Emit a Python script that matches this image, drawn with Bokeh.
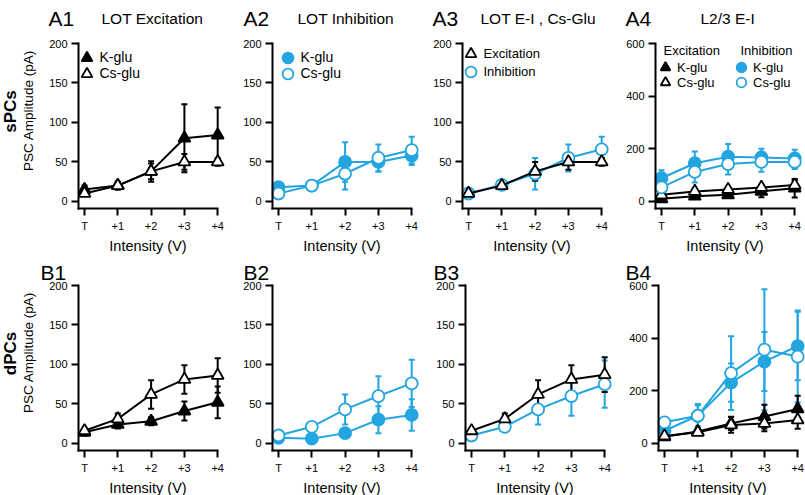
from bokeh.plotting import figure
from bokeh.models import (Range1d, FixedTicker, ColumnDataSource, Whisker, TeeHead,
                          Legend, LegendItem, Label)
from bokeh.layouts import row, column
from bokeh.embed import file_html
from bokeh.resources import INLINE

FONT = "Liberation Sans"
BLUE = "#23A5E0"
BLACK = "#000000"

# ---------------- data ----------------
x_labels = ["T", "+1", "+2", "+3", "+4"]
intensity = [0, 1, 2, 3, 4]

# A1 LOT excitation (sPCs)
a1_kglu = [15, 20, 38, 80, 84]
a1_kglu_err = [5, 5, 13, 43, 35]
a1_csglu = [10, 20, 38, 50, 50]
a1_csglu_err = [3, 5, 10, 10, 5]
# A2 LOT inhibition (sPCs)
a2_kglu = [18, 20, 50, 50, 58]
a2_kglu_err = [5, 5, 25, 12, 12]
a2_csglu = [10, 20, 35, 55, 65]
a2_csglu_err = [3, 5, 20, 17, 17]
# A3 LOT E-I, Cs-Glu (sPCs)
a3_exc = [10, 20, 38, 50, 50]
a3_exc_err = [3, 5, 12, 10, 5]
a3_inh = [10, 21, 35, 55, 66]
a3_inh_err = [3, 4, 20, 17, 16]
# A4 L2/3 E-I (sPCs)
a4_exc_k = [10, 20, 25, 38, 50]
a4_exc_k_err = [5, 8, 10, 22, 35]
a4_exc_cs = [25, 38, 45, 53, 62]
a4_exc_cs_err = [8, 8, 10, 10, 18]
a4_inh_k = [88, 145, 170, 167, 163]
a4_inh_k_err = [30, 45, 48, 33, 33]
a4_inh_cs = [53, 112, 142, 150, 150]
a4_inh_cs_err = [30, 40, 40, 37, 27]
# B1 LOT excitation (dPCs)
b1_kglu = [14, 24, 28, 41, 52]
b1_kglu_err = [4, 5, 5, 12, 20]
b1_csglu = [16, 31, 62, 81, 86]
b1_csglu_err = [3, 7, 18, 18, 22]
# B2 LOT inhibition (dPCs)
b2_kglu = [7, 6, 13, 30, 36]
b2_kglu_err = [3, 3, 4, 17, 20]
b2_csglu = [10, 21, 43, 60, 76]
b2_csglu_err = [2, 3, 19, 25, 30]
# B3 LOT E-I (dPCs)
b3_exc = [16, 31, 62, 81, 87]
b3_exc_err = [3, 7, 18, 18, 22]
b3_inh = [10, 21, 43, 60, 75]
b3_inh_err = [2, 3, 19, 25, 30]
# B4 L2/3 E-I (dPCs)
b4_exc_k = [25, 45, 76, 102, 131]
b4_exc_k_err = [8, 10, 25, 45, 50]
b4_exc_cs = [28, 42, 70, 76, 89]
b4_exc_cs_err = [8, 10, 30, 30, 33]
b4_inh_k = [48, 105, 231, 311, 370]
b4_inh_k_err = [30, 45, 73, 112, 130]
b4_inh_cs = [80, 105, 267, 356, 330]
b4_inh_cs_err = [20, 40, 140, 230, 175]

ticks_200 = [0, 50, 100, 150, 200]
ticks_600 = [0, 200, 400, 600]

X0 = -0.18          # left end of the x axis (data)
SX = 33.3           # pixels per intensity step
GEOM = {}


def make_fig(W, H, L, T, F, ymax, yticks):
    """Frame fills the canvas; the data box starts L px from the left and
    T px from the top and is F px tall; axes sit at fixed locations."""
    y0 = -0.045 * ymax
    sy = F / (ymax - y0)
    xr = Range1d(X0 - L / SX, X0 + (W - L) / SX)
    yr = Range1d(y0 - (H - T - F) / sy, ymax + T / sy)
    p = figure(width=W, height=H, output_backend="svg", toolbar_location=None,
               x_range=xr, y_range=yr, min_border=0)
    GEOM[p.id] = (W, H, L, T, sy, xr.start, yr.end)
    p.title.visible = False
    p.outline_line_color = None
    p.xgrid.visible = False
    p.ygrid.visible = False
    p.background_fill_color = "white"
    p.border_fill_color = "white"
    p.xaxis.ticker = FixedTicker(ticks=intensity)
    p.xaxis.major_label_overrides = {i: s for i, s in zip(intensity, x_labels)}
    p.yaxis.ticker = FixedTicker(ticks=yticks)
    p.xaxis.bounds = (X0, 4)
    p.yaxis.bounds = (y0, ymax)
    p.xaxis.fixed_location = y0
    p.yaxis.fixed_location = X0
    for ax in (p.xaxis[0], p.yaxis[0]):
        ax.axis_line_width = 2
        ax.axis_line_cap = "square"
        ax.major_tick_line_width = 2
        ax.major_tick_out = 7
        ax.major_tick_in = 0
        ax.minor_tick_line_color = None
        ax.major_label_text_font = FONT
        ax.major_label_text_font_size = "11px"
        ax.major_label_text_color = "black"
        ax.major_label_standoff = 4
        ax.axis_label_text_font = FONT
        ax.axis_label_text_font_style = "normal"
        ax.axis_label_text_color = "black"
    p.xaxis.axis_label = "Intensity (V)"
    p.xaxis.axis_label_text_font_size = "14.5px"
    p.xaxis.axis_label_standoff = 3
    return p


def add_series(p, y, err, color, marker, filled):
    src = ColumnDataSource(dict(
        x=intensity, y=y,
        upper=[v + e for v, e in zip(y, err)],
        lower=[v - e for v, e in zip(y, err)]))
    p.add_layout(Whisker(source=src, base="x", upper="upper", lower="lower",
                         line_color=color, line_width=2,
                         upper_head=TeeHead(size=6, line_color=color, line_width=2),
                         lower_head=TeeHead(size=6, line_color=color, line_width=2)))
    p.line("x", "y", source=src, line_color=color, line_width=2)
    return p.scatter("x", "y", source=src, marker=marker, size=12,
                     line_color=color, line_width=1.8,
                     fill_color=color if filled else "white")


def add_label(p, text, rx, ry, size, style="normal", angle=0, align="left",
              baseline="alphabetic"):
    """rx, ry: pixel offsets from the data box's top-left corner (ry downward)."""
    W, H, L, T, sy, xs, ye = GEOM[p.id]
    x = xs + (L + rx) / SX
    y = ye - (T + ry) / sy
    p.add_layout(Label(x=x, y=y, text=text,
                       text_font=FONT, text_font_size=size, text_font_style=style,
                       angle=angle, text_align=align, text_baseline=baseline,
                       text_color="black"))


def item_legend(p, label, r, gx, gy, gh=27, fs="14px"):
    """gx, gy: glyph centre, pixels from the data box's top-left corner."""
    W, H, L, T, sy, xs, ye = GEOM[p.id]
    leg = Legend(items=[LegendItem(label=label, renderers=[r])],
                 location=(L + gx - gh / 2, H - (T + gy) - gh / 2),
                 glyph_width=gh, glyph_height=gh, label_height=gh,
                 spacing=0, label_standoff=0, padding=0, margin=0,
                 border_line_color=None, background_fill_alpha=0,
                 label_text_font=FONT, label_text_font_size=fs,
                 label_text_color="black")
    p.add_layout(leg)


HA, TA, FA = 254, 43, 165
HB, TB, FB = 241, 31, 165
PANEL_FS = "21px"
TITLE_FS = "15.5px"
B_TY = -13

# ---------------- row A ----------------
a1 = make_fig(232, HA, 78, TA, FA, 200, ticks_200)
r1 = add_series(a1, a1_kglu, a1_kglu_err, BLACK, "triangle", True)
r2 = add_series(a1, a1_csglu, a1_csglu_err, BLACK, "triangle", False)
item_legend(a1, "K-glu", r1, 8, 14)
item_legend(a1, "Cs-glu", r2, 8, 30)
add_label(a1, "A1", -30, -25, PANEL_FS)
add_label(a1, "LOT Excitation", 23, -25, TITLE_FS)
add_label(a1, "sPCs", -68, 68, "17px", style="bold", angle=1.5708,
          align="center", baseline="middle")
add_label(a1, "PSC Amplitude (pA)", -50, 67, "13.5px", angle=1.5708,
          align="center", baseline="middle")

a2 = make_fig(194, HA, 40, TA, FA, 200, ticks_200)
r1 = add_series(a2, a2_kglu, a2_kglu_err, BLUE, "circle", True)
r2 = add_series(a2, a2_csglu, a2_csglu_err, BLUE, "circle", False)
item_legend(a2, "K-glu", r1, 15, 14)
item_legend(a2, "Cs-glu", r2, 15, 30)
add_label(a2, "A2", -29, -25, PANEL_FS)
add_label(a2, "LOT Inhibition", 25, -25, TITLE_FS)

a3 = make_fig(189, HA, 36, TA, FA, 200, ticks_200)
r2 = add_series(a3, a3_inh, a3_inh_err, BLUE, "circle", False)
r1 = add_series(a3, a3_exc, a3_exc_err, BLACK, "triangle", False)
item_legend(a3, "Excitation", r1, 8, 10, fs="13px")
item_legend(a3, "Inhibition", r2, 8, 28, fs="13px")
add_label(a3, "A3", -30, -25, PANEL_FS)
add_label(a3, "LOT E-I , Cs-Glu", 18, -25, TITLE_FS)

a4 = make_fig(190, HA, 40, TA, FA, 600, ticks_600)
e1 = add_series(a4, a4_exc_k, a4_exc_k_err, BLACK, "triangle", True)
e2 = add_series(a4, a4_exc_cs, a4_exc_cs_err, BLACK, "triangle", False)
i1 = add_series(a4, a4_inh_k, a4_inh_k_err, BLUE, "circle", True)
i2 = add_series(a4, a4_inh_cs, a4_inh_cs_err, BLUE, "circle", False)
add_label(a4, "Excitation", 8, 7, "13px", baseline="middle")
add_label(a4, "Inhibition", 85, 7, "13px", baseline="middle")
item_legend(a4, "K-glu", e1, 10, 24, gh=24, fs="13px")
item_legend(a4, "Cs-glu", e2, 10, 39, gh=24, fs="13px")
item_legend(a4, "K-glu", i1, 86, 24, gh=24, fs="13px")
item_legend(a4, "Cs-glu", i2, 86, 39, gh=24, fs="13px")
add_label(a4, "A4", -30, -25, PANEL_FS)
add_label(a4, "L2/3 E-I", 45, -25, TITLE_FS)

# ---------------- row B ----------------
b1 = make_fig(232, HB, 78, TB, FB, 200, ticks_200)
add_series(b1, b1_kglu, b1_kglu_err, BLACK, "triangle", True)
add_series(b1, b1_csglu, b1_csglu_err, BLACK, "triangle", False)
add_label(b1, "B1", -38, B_TY, PANEL_FS)
add_label(b1, "dPCs", -68, 68, "17px", style="bold", angle=1.5708,
          align="center", baseline="middle")
add_label(b1, "PSC Amplitude (pA)", -50, 67, "13.5px", angle=1.5708,
          align="center", baseline="middle")

b2 = make_fig(197, HB, 40, TB, FB, 200, ticks_200)
add_series(b2, b2_kglu, b2_kglu_err, BLUE, "circle", True)
add_series(b2, b2_csglu, b2_csglu_err, BLUE, "circle", False)
add_label(b2, "B2", -29, B_TY, PANEL_FS)

b3 = make_fig(189, HB, 36, TB, FB, 200, ticks_200)
add_series(b3, b3_inh, b3_inh_err, BLUE, "circle", False)
add_series(b3, b3_exc, b3_exc_err, BLACK, "triangle", False)
add_label(b3, "B3", -32, B_TY, PANEL_FS)

b4 = make_fig(187, HB, 40, TB, FB, 600, ticks_600)
add_series(b4, b4_inh_k, b4_inh_k_err, BLUE, "circle", True)
add_series(b4, b4_inh_cs, b4_inh_cs_err, BLUE, "circle", False)
add_series(b4, b4_exc_k, b4_exc_k_err, BLACK, "triangle", True)
add_series(b4, b4_exc_cs, b4_exc_cs_err, BLACK, "triangle", False)
add_label(b4, "B4", -33, B_TY, PANEL_FS)

layout = column(row(a1, a2, a3, a4), row(b1, b2, b3, b4))
open("out.html", "w").write(file_html(layout, INLINE))
